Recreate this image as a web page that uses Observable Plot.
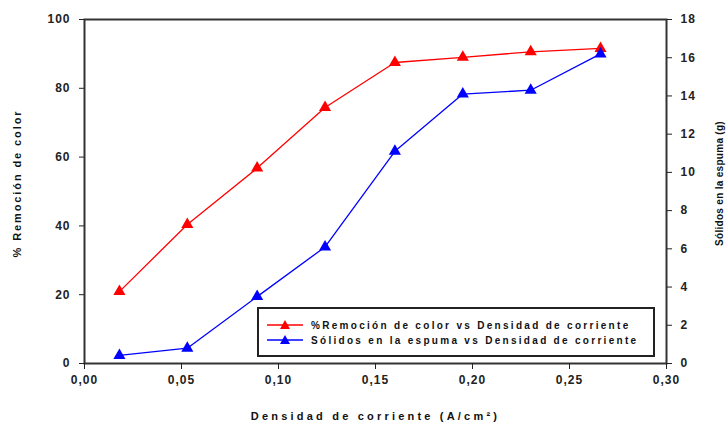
<!DOCTYPE html>
<html>
<head>
<meta charset="utf-8">
<script src="https://cdn.jsdelivr.net/npm/d3@7"></script>
<script src="https://cdn.jsdelivr.net/npm/@observablehq/plot@0.6"></script>
<style>
  body { margin: 0; background: #fff; font-family: "Liberation Sans", Arial, sans-serif; }
  #wrap { position: relative; width: 727px; height: 427px; }
  #legend {
    position: absolute; left: 257px; top: 307px; width: 394px; height: 46px;
    border: 2px solid #222; background: #fff; font-size: 10px; font-weight: bold;
    letter-spacing: 2.3px; color: #111; white-space: nowrap;
  }
  .row { position: absolute; left: 8px; height: 14px; display: flex; align-items: center; }
  .row svg { margin-right: 8px; }
  [aria-label="ylabel-left"], [aria-label="ylabel-left"] text { letter-spacing: 1.9px; }
  [aria-label="ylabel-right"], [aria-label="ylabel-right"] text { letter-spacing: 0.3px; }
  [aria-label="xlabel"], [aria-label="xlabel"] text { letter-spacing: 3.2px; }
</style>
</head>
<body>
<div id="wrap"></div>
<script>
const density = [0.018, 0.053, 0.089, 0.124, 0.160, 0.195, 0.230, 0.266];
const removal = [20.9, 40.4, 56.8, 74.4, 87.5, 89.0, 90.6, 91.6];
const solids = [0.42, 0.8, 3.5, 6.1, 11.1, 14.1, 14.3, 16.2];
const xTicks = [0, 0.05, 0.10, 0.15, 0.20, 0.25, 0.30];
const leftTicks = [0, 20, 40, 60, 80, 100];
const rightTicks = [0, 2, 4, 6, 8, 10, 12, 14, 16, 18];
const seriesNames = ["%Remoción de color vs Densidad de corriente", "Sólidos en la espuma vs Densidad de corriente"];
const seriesColors = ["#ff0000", "#0000ff"];

const k = 100 / 18;
const red = density.map((d, i) => ({x: d, y: removal[i]}));
const blue = density.map((d, i) => ({x: d, y: solids[i] * k}));
const fmt = d => d.toFixed(2).replace(".", ",");

const chart = Plot.plot({
  width: 727, height: 427,
  marginLeft: 84, marginRight: 61, marginTop: 19, marginBottom: 64,
  style: {fontFamily: "Liberation Sans, Arial, sans-serif", fontSize: "12px", fontWeight: "bold", color: "#222", letterSpacing: "1px"},
  x: {domain: [0, 0.3]},
  y: {domain: [0, 100]},
  marks: [
    Plot.frame({stroke: "#333", strokeWidth: 2}),
    Plot.axisX({ticks: xTicks, tickFormat: fmt, tickSize: 6, tickPadding: 6, tickStrokeWidth: 1.5, label: null}),
    Plot.axisY({ticks: leftTicks, tickSize: 5, tickPadding: 9, tickStrokeWidth: 1.5, label: null}),
    Plot.axisY({anchor: "right", ticks: rightTicks.map(t => t * k), tickFormat: d => Math.round(d / k),
      tickSize: 5, tickPadding: 9, tickStrokeWidth: 1.5, label: null}),
    Plot.text(["% Remoción de color"], {frameAnchor: "left", textAnchor: "middle", dx: -67, dy: -8, rotate: -90,
      fontSize: 11, fontWeight: "bold", fill: "#111", ariaLabel: () => "ylabel-left"}),
    Plot.text(["Sólidos en la espuma (g)"], {frameAnchor: "right", textAnchor: "middle", dx: 53, dy: -8, rotate: -90,
      fontSize: 10, fontWeight: "bold", fill: "#111", ariaLabel: () => "ylabel-right"}),
    Plot.text(["Densidad de corriente (A/cm²)"], {frameAnchor: "bottom", dy: 56,
      fontSize: 11, fontWeight: "bold", fill: "#111", ariaLabel: () => "xlabel"}),
    Plot.line(red, {x: "x", y: "y", stroke: seriesColors[0], strokeWidth: 1.3}),
    Plot.dot(red, {x: "x", y: "y", symbol: "triangle", r: 4.5, fill: seriesColors[0], stroke: "none"}),
    Plot.line(blue, {x: "x", y: "y", stroke: seriesColors[1], strokeWidth: 1.3}),
    Plot.dot(blue, {x: "x", y: "y", symbol: "triangle", r: 4.5, fill: seriesColors[1], stroke: "none"})
  ]
});
document.getElementById("wrap").appendChild(chart);

const legend = document.createElement("div");
legend.id = "legend";
seriesNames.forEach((name, i) => {
  const row = document.createElement("div");
  row.className = "row";
  row.style.top = (9 + i * 15) + "px";
  row.innerHTML = `<svg width="36" height="12"><line x1="0" y1="6" x2="36" y2="6" stroke="${seriesColors[i]}" stroke-width="1.5"/><polygon points="18,1 23,10 13,10" fill="${seriesColors[i]}"/></svg><span>${name}</span>`;
  legend.appendChild(row);
});
document.getElementById("wrap").appendChild(legend);
</script>
</body>
</html>
